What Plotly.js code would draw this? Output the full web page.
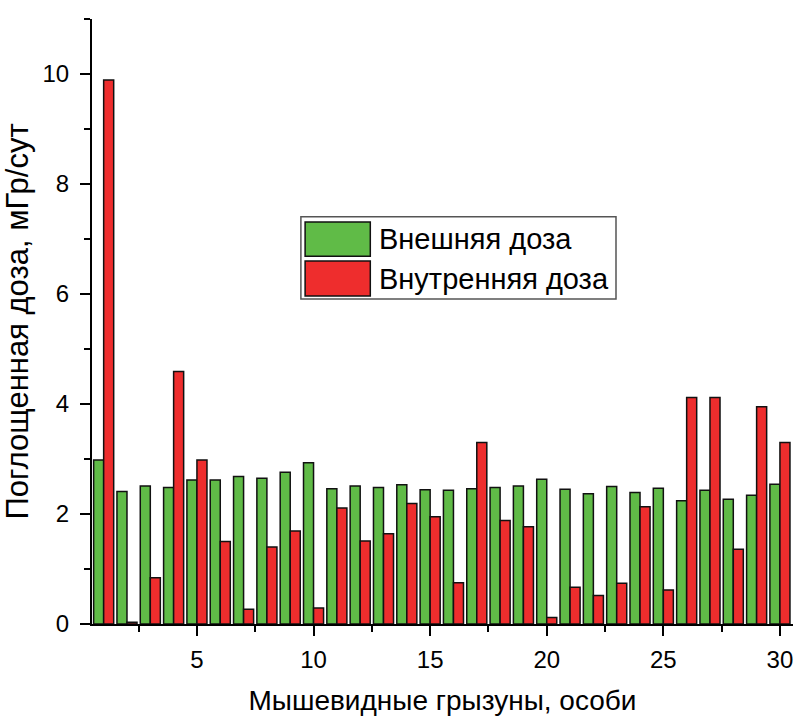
<!DOCTYPE html>
<html>
<head>
<meta charset="utf-8">
<script src="https://cdn.plot.ly/plotly-3.0.1.min.js"></script>
<style>html,body{margin:0;padding:0;background:#fff;}#chart{width:794px;height:716px;}</style>
</head>
<body>
<div id="chart"></div>
<script>
var animals = [1,2,3,4,5,6,7,8,9,10,11,12,13,14,15,16,17,18,19,20,21,22,23,24,25,26,27,28,29,30];
var externalDose = [2.98,2.41,2.51,2.48,2.62,2.62,2.68,2.65,2.76,2.93,2.46,2.51,2.48,2.53,2.44,2.43,2.46,2.48,2.51,2.63,2.45,2.37,2.50,2.39,2.47,2.24,2.43,2.27,2.34,2.54];
var internalDose = [9.89,0.03,0.84,4.59,2.98,1.50,0.27,1.40,1.69,0.29,2.11,1.51,1.64,2.19,1.95,0.75,3.30,1.88,1.77,0.12,0.67,0.52,0.74,2.13,0.62,4.12,4.12,1.36,3.95,3.30];
var seriesNames = ['Внешняя доза', 'Внутренняя доза'];
var xTitle = 'Мышевидные грызуны, особи';
var yTitle = 'Поглощенная доза, мГр/сут';

var GREEN = '#60bb47';
var RED = '#ee2d2d';
var FONT = 'Liberation Sans, Arial, sans-serif';

var traces = [
  {type:'bar', x:animals, y:externalDose, name:seriesNames[0],
   marker:{color:GREEN, line:{color:'#111', width:1.5}}},
  {type:'bar', x:animals, y:internalDose, name:seriesNames[1],
   marker:{color:RED, line:{color:'#111', width:1.5}}}
];

var layout = {
  width:794, height:716,
  margin:{l:92, r:1, t:19, b:92},
  paper_bgcolor:'#fff', plot_bgcolor:'#fff',
  barmode:'group', bargap:0.14, bargroupgap:0,
  showlegend:false,
  font:{family:FONT, color:'#000'},
  xaxis:{
    range:[0.5,30.56], tick0:0, dtick:5, ticks:'outside', ticklen:10, tickwidth:2, tickcolor:'#000',
    showline:true, linewidth:2, linecolor:'#000', showgrid:false, zeroline:false,
    tickfont:{size:24, family:FONT}, ticklabelstandoff:3,
    minor:{dtick:2.5, tick0:0, ticks:'outside', ticklen:6, tickwidth:2, tickcolor:'#000', showgrid:false},
    title:{text:xTitle, font:{size:28, family:FONT}, standoff:20},
    automargin:false
  },
  yaxis:{
    range:[0,11], tick0:0, dtick:2, ticks:'outside', ticklen:10, tickwidth:2, tickcolor:'#000',
    showline:true, linewidth:2, linecolor:'#000', showgrid:false, zeroline:false,
    tickfont:{size:24, family:FONT}, ticklabelstandoff:6,
    minor:{dtick:1, tick0:0, ticks:'outside', ticklen:6, tickwidth:2, tickcolor:'#000', showgrid:false},
    title:{text:yTitle, font:{size:31, family:FONT}, standoff:5},
    automargin:false
  },
  shapes:[
    {type:'rect', xref:'paper', yref:'paper', x0:0.298, x1:0.7475, y0:0.537, y1:0.673,
     line:{color:'#555', width:1.5}, fillcolor:'#fff', layer:'above'},
    {type:'rect', xref:'paper', yref:'paper', x0:0.304, x1:0.397, y0:0.608, y1:0.6645,
     line:{color:'#111', width:1.5}, fillcolor:GREEN, layer:'above'},
    {type:'rect', xref:'paper', yref:'paper', x0:0.304, x1:0.397, y0:0.542, y1:0.600,
     line:{color:'#111', width:1.5}, fillcolor:RED, layer:'above'}
  ],
  annotations:[
    {xref:'paper', yref:'paper', x:0.407, y:0.636, xanchor:'left', yanchor:'middle', showarrow:false,
     text:seriesNames[0], font:{size:29, family:FONT, color:'#000'}},
    {xref:'paper', yref:'paper', x:0.407, y:0.571, xanchor:'left', yanchor:'middle', showarrow:false,
     text:seriesNames[1], font:{size:29, family:FONT, color:'#000'}}
  ]
};

Plotly.newPlot('chart', traces, layout, {displayModeBar:false, staticPlot:true});
</script>
</body>
</html>
